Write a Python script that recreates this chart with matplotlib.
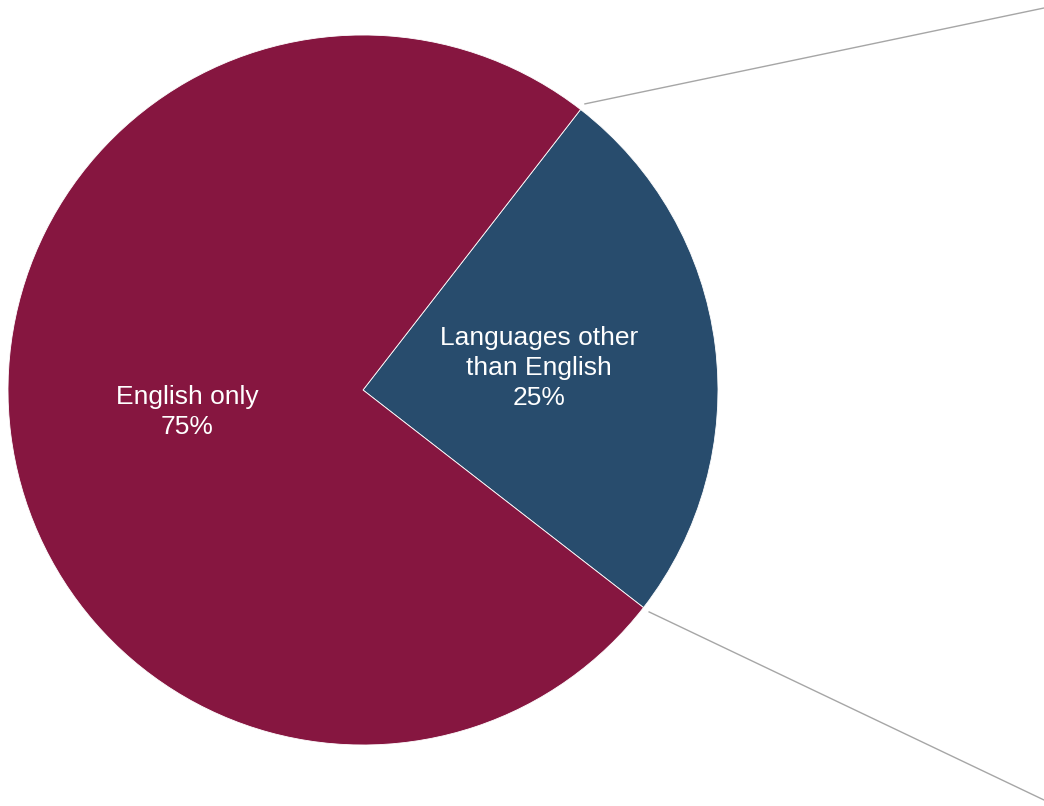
import numpy as np
import matplotlib
matplotlib.use("Agg")
import matplotlib.pyplot as plt

plt.rcParams['font.family'] = ['Liberation Sans', 'DejaVu Sans']

# data
labels = ["Languages other\nthan English", "English only"]
shares = [25, 75]
colors = ["#284C6D", "#861640"]

W, H = 1044, 806
fig = plt.figure(figsize=(W / 100, H / 100), dpi=100)
ax = fig.add_axes([0, 0, 1, 1])

center = (363, 416)
radius = 355
start = 52.2

wedges, texts = ax.pie(
    shares, labels=[f"{l}\n{s}%" for l, s in zip(labels, shares)],
    colors=colors, startangle=start, counterclock=False,
    center=center, radius=radius, labeldistance=0.5,
    wedgeprops=dict(edgecolor='white', linewidth=0.6),
    textprops=dict(color='white', fontsize=19, linespacing=1.32),
    frame=True)
for t in texts:
    t.set_horizontalalignment('center')
    t.set_verticalalignment('center')

ax.set_xlim(0, W)
ax.set_ylim(0, H)
ax.set_aspect('equal')
ax.axis('off')

# connector lines toward the (cropped) breakdown of the small slice
w = wedges[0]
for ang, end in [(w.theta2, (W, 798)), (w.theta1, (W, 6))]:
    a = np.deg2rad(ang)
    x0 = center[0] + 1.02 * radius * np.cos(a)
    y0 = center[1] + 1.02 * radius * np.sin(a)
    ax.plot([x0, end[0]], [y0, end[1]], color='#A6A6A6', linewidth=1.0, clip_on=False)

fig.savefig("out.png", dpi=100)
